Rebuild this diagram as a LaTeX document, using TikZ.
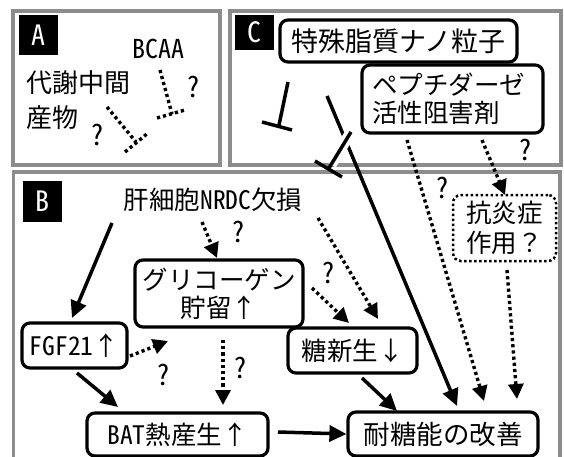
\documentclass[tikz,border=0pt]{standalone}
\usepackage{fontspec}
\setmainfont{Noto Sans CJK JP}
\newfontfamily\lat{Noto Sans CJK JP}[RawFeature=+hwid]
\usetikzlibrary{arrows.meta}
\newcommand\fs{\fontsize{25.5}{28}\selectfont}
\begin{document}
\begin{tikzpicture}[x=1pt,y=-1pt,
  panel/.style={draw=black!45, line width=3.5pt},
  box/.style={draw, line width=3.2pt, rounded corners=8pt, inner sep=0pt, align=center, font=\fs},
  lab/.style={fill=black, text=white, inner sep=0pt, font=\lat\fontsize{28}{28}\selectfont},
  txt/.style={inner sep=0pt, font=\fs},
  qm/.style={inner sep=0pt, font=\lat\fontsize{28}{28}\selectfont},
  solarrow/.style={line width=3.5pt, -{Triangle[length=17pt,width=16pt]}},
  dotline/.style={line width=3.4pt, dash pattern=on 3.2pt off 3pt},
  dotarrow/.style={dotline, -{Triangle[length=15pt,width=15pt]}},
  teeline/.style={line width=3.5pt},
]
\useasboundingbox (0,0) rectangle (564,457);
\fill[white] (0,0) rectangle (564,457);
% panels
\draw[panel] (13,11) rectangle (220,165);
\draw[panel] (230,11) rectangle (561,165);
\draw[panel] (13.5,172) rectangle (560,480);
% labels
\node[lab, minimum width=39pt, minimum height=40pt] (labA) at (38.5,35) {A};
\node[lab, minimum width=39pt, minimum height=35pt] (labC) at (254.5,32.5) {C};
\node[lab, minimum width=39pt, minimum height=41pt] (labB) at (42.5,201.5) {B};
% panel A
\node[txt, font=\lat\fontsize{26}{26}\selectfont] (bcaa) at (158,49) {BCAA};
\node[txt, align=left, anchor=west, font=\fontsize{26}{35}\selectfont] (meta) at (26,100.5) {代謝中間\\産物};
\node[qm] (qa1) at (193,87) {?};
\node[qm] (qa2) at (97,135) {?};
\coordinate (a1s) at (160,70);
\coordinate (a1e) at (172,114);
\coordinate (a1b1) at (157,118);
\coordinate (a1b2) at (185,110);
\coordinate (a2s) at (107,107);
\coordinate (a2e) at (136,142);
\coordinate (a2b1) at (125,152);
\coordinate (a2b2) at (148,133);
\draw[dotline] (a1s) -- (a1e);
\draw[dotline] (a1b1) -- (a1b2);
\draw[dotline] (a2s) -- (a2e);
\draw[dotline] (a2b1) -- (a2b2);
% panel C
\node[box, minimum width=237pt, minimum height=42pt, font=\fontsize{27}{28}\selectfont] (nano) at (398.5,41) {特殊脂質ナノ粒子};
\node[box, align=left, text width=161pt, inner xsep=10pt, minimum height=68pt] (pep) at (452.5,99) {ペプチダーゼ\\活性阻害剤};
% panel B nodes
\node[txt] (nrdc) at (213,200) {肝細胞{\lat NRDC}欠損};
\node[box, minimum width=168pt, minimum height=67pt] (gly) at (219,293.5) {グリコーゲン\\貯留↑};
\node[box, minimum width=129pt, minimum height=45pt] (tsn) at (352.5,350.5) {糖新生↓};
\node[box, minimum width=105pt, minimum height=45pt] (fgf) at (74.5,345.5) {{\lat FGF21}↑};
\node[box, minimum width=181pt, minimum height=43pt] (bat) at (177.5,434.5) {{\lat BAT}熱産生↑};
\node[box, minimum width=190pt, minimum height=44pt, font=\fontsize{26.5}{28}\selectfont] (tai) at (443,434) {耐糖能の改善};
\node[box, line width=2.5pt, dash pattern=on 2.5pt off 2.5pt, minimum width=103pt, minimum height=66pt, font=\fontsize{25.5}{30}\selectfont] (anti) at (504.5,228) {抗炎症\\作用？};
% question marks
\node[qm] (qc1) at (525,150) {?};
\node[qm] (qb1) at (238,232) {?};
\node[qm] (qb2) at (328,273) {?};
\node[qm] (qb3) at (163,375) {?};
\node[qm] (qb4) at (240,368) {?};
\node[qm] (qb5) at (442,188) {?};
% connector endpoints
\coordinate (t1s) at (288,82);
\coordinate (t1e) at (279,125);
\coordinate (t1b1) at (262,122);
\coordinate (t1b2) at (292,130);
\coordinate (lgs) at (327,96);
\coordinate (lge) at (457,406);
\coordinate (t2s) at (351,132);
\coordinate (t2e) at (329,168);
\coordinate (t2b1) at (315,161);
\coordinate (t2b2) at (342,177);
\coordinate (p1s) at (407,140);
\coordinate (p1e) at (484,401);
\coordinate (p2s) at (482,140);
\coordinate (p2e) at (505,195);
\coordinate (ans) at (507,270);
\coordinate (ane) at (517,399);
\coordinate (n1s) at (112,223);
\coordinate (n1e) at (72,318);
\coordinate (n2s) at (202,222);
\coordinate (n2e) at (217,258);
\coordinate (n3s) at (318,218);
\coordinate (n3e) at (378,319);
\coordinate (g1s) at (312,288);
\coordinate (g1e) at (349,323);
\coordinate (f1s) at (130,356);
\coordinate (f1e) at (168,341);
\coordinate (g2s) at (223,340);
\coordinate (g2e) at (223,405);
\coordinate (f2s) at (77,373);
\coordinate (f2e) at (118,407);
\coordinate (s1s) at (362,378);
\coordinate (s1e) at (397,411);
\coordinate (b1s) at (278,432);
% panel C connectors
\draw[teeline] (t1s) -- (t1e);
\draw[teeline] (t1b1) -- (t1b2);
\draw[solarrow] (lgs) -- (lge);
\draw[white, line width=11pt, shorten <=-2pt, shorten >=4pt] (t2s) -- (t2e);
\draw[teeline] (t2s) -- (t2e);
\draw[teeline] (t2b1) -- (t2b2);
\draw[dotarrow] (p1s) -- (p1e);
\draw[dotarrow] (p2s) -- (p2e);
\draw[dotarrow] (ans) -- (ane);
% panel B connectors
\draw[solarrow] (n1s) -- (n1e);
\draw[dotarrow] (n2s) -- (n2e);
\draw[dotarrow] (n3s) -- (n3e);
\draw[dotarrow] (g1s) -- (g1e);
\draw[dotarrow] (f1s) -- (f1e);
\draw[dotarrow] (g2s) -- (g2e);
\draw[solarrow] (f2s) -- (f2e);
\draw[solarrow] (s1s) -- (s1e);
\draw[solarrow] (b1s) -- (tai.west);
\end{tikzpicture}
\end{document}
